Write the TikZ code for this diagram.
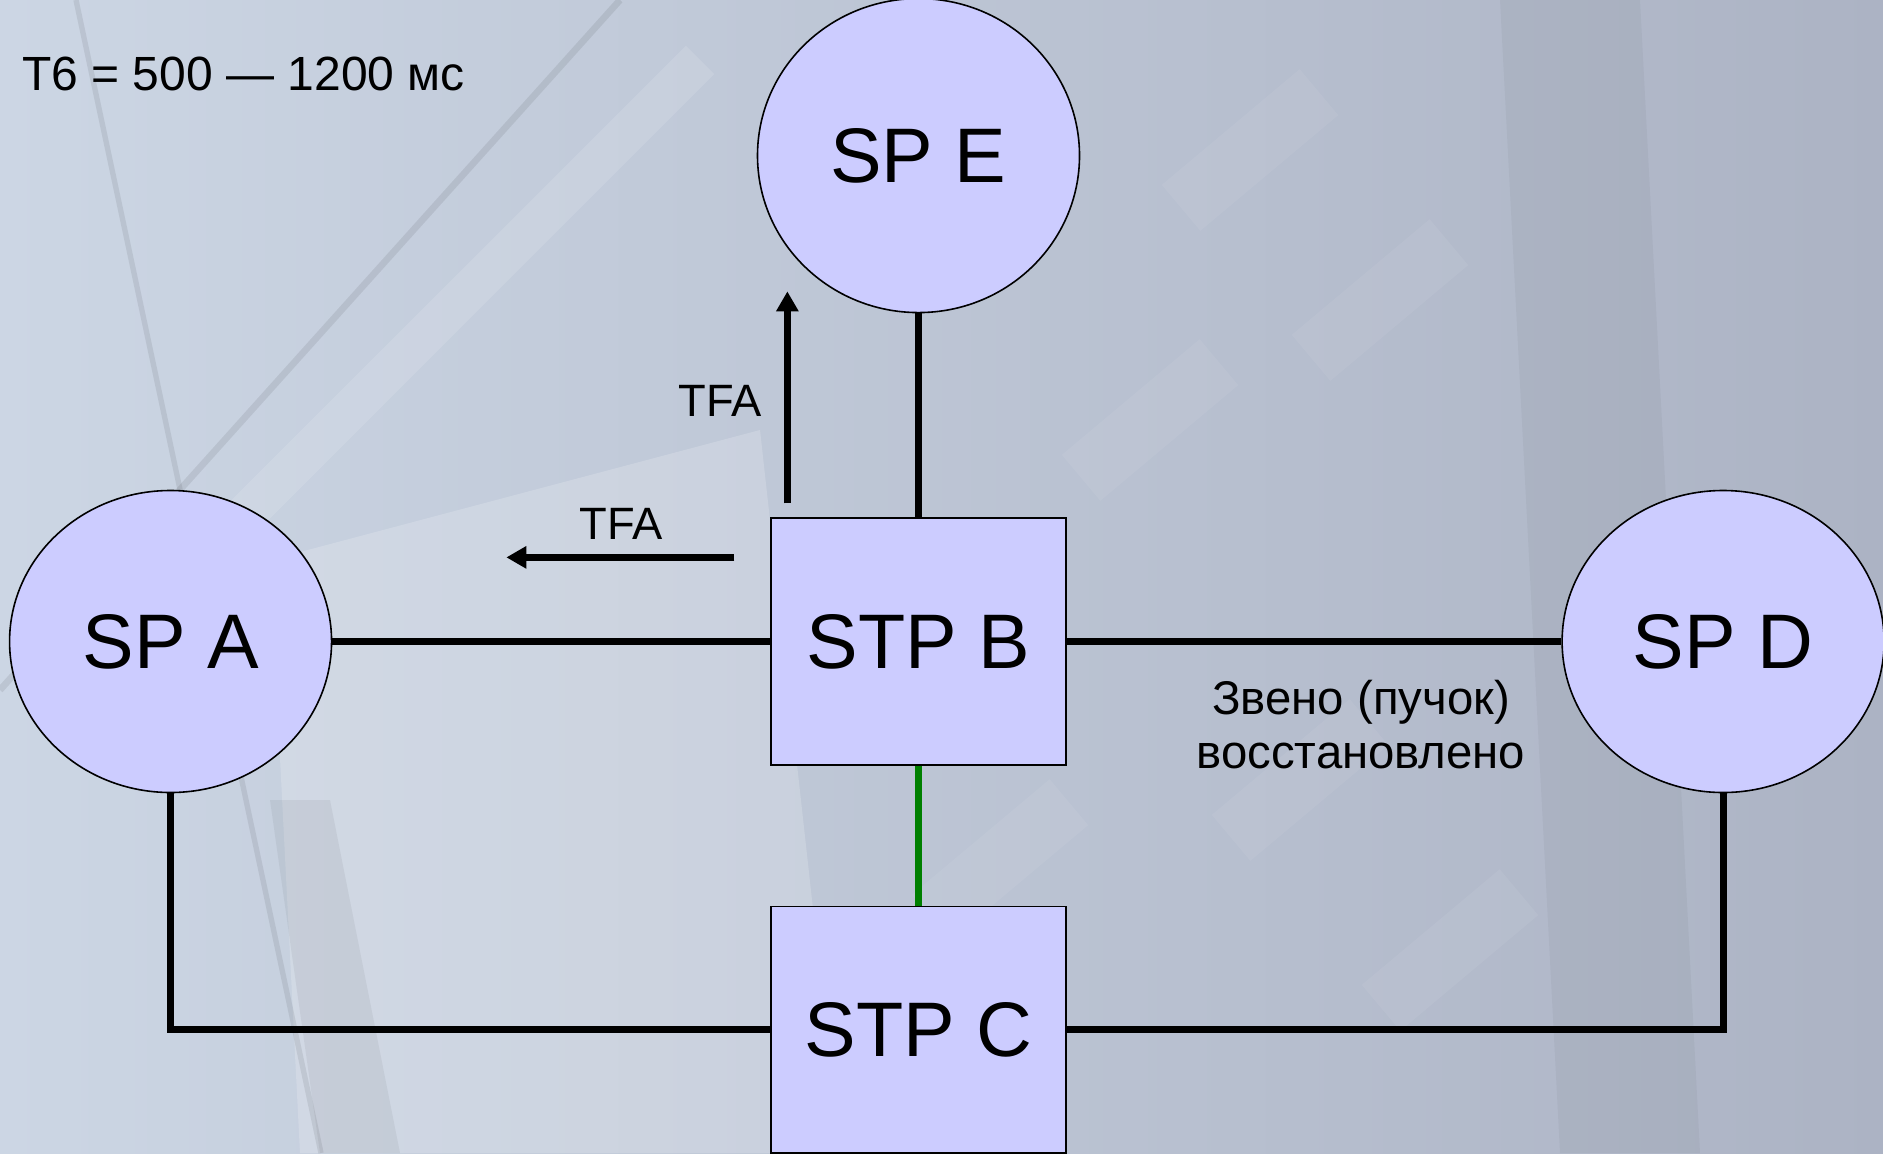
\documentclass[tikz,border=0pt]{standalone}
\usepackage{fontspec}
\setmainfont{Liberation Sans}
\usetikzlibrary{arrows.meta,positioning,shapes.geometric}

\definecolor{nodefill}{RGB}{204,204,255}
\definecolor{linkgreen}{RGB}{0,128,0}
\definecolor{bglight}{RGB}{204,214,228}
\definecolor{bgdark}{RGB}{172,179,196}

\tikzset{
  sp/.style={
    draw, ellipse, fill=nodefill, line width=1.2pt,
    inner sep=0pt, minimum width=241.5pt, minimum height=226.5pt,
    font=\fontsize{58}{58}\selectfont
  },
  stp/.style={
    draw, rectangle, fill=nodefill, line width=1.2pt,
    inner sep=0pt, minimum width=221pt, minimum height=185pt,
    font=\fontsize{58}{58}\selectfont
  },
  link/.style={line width=5.3pt},
  greenlink/.style={line width=5.5pt, draw=linkgreen},
  tfa/.style={line width=5.5pt, -{Triangle[length=15pt,width=16pt]}},
  note/.style={inner sep=0pt, align=center, font=\fontsize{34}{40.5}\selectfont}
}

\begin{document}
\begin{tikzpicture}[x=0.75pt, y=-0.75pt]
\useasboundingbox (0,0) rectangle (1883,1153);

% ---------- background ----------
\begin{scope}
  \clip (0,0) rectangle (1883,1153);
  \shade[left color=bglight, right color=bgdark] (0,0) rectangle (1883,1153);
  \fill[white, opacity=0.18] (300,1153) -- (270,560) -- (760,430) -- (840,1153) -- cycle;
  \fill[black, opacity=0.05] (270,800) -- (330,800) -- (400,1153) -- (320,1153) -- cycle;
  \fill[black, opacity=0.035] (1500,0) -- (1640,0) -- (1700,1153) -- (1560,1153) -- cycle;
  \draw[black, opacity=0.08, line width=4] (76,0) -- (321,1153);
  \draw[black, opacity=0.08, line width=5] (0,690) -- (620,0);
  \draw[white, opacity=0.12, line width=30] (60,700) -- (700,60);
  \foreach \x/\y in {1250/150, 1380/300, 1150/420, 1300/780, 1450/950, 1000/860}
    \fill[white, opacity=0.06, rotate around={40:(\x,\y)}] (\x-90,\y-30) rectangle (\x+90,\y+30);
\end{scope}

% ---------- nodes ----------
\node[stp] (stpB) at (918.5,641.5) {STP B};
\node[sp, above=153pt of stpB, minimum height=235.5pt] (spE) {SP E};
\node[sp, left=328.5pt of stpB] (spA) {SP A};
\node[sp, right=371pt of stpB] (spD) {SP D};
\node[stp, below=105pt of stpB] (stpC) {STP C};

% ---------- links ----------
\draw[link] (spE) -- (stpB);
\draw[link] (spA) -- (stpB);
\draw[link] (stpB) -- (spD);
\draw[greenlink] (stpB) -- (stpC);
\draw[link] (spA.south) |- (stpC.west);
\draw[link] (spD.south) |- (stpC.east);

% ---------- TFA messages ----------
\coordinate (tfaUpFrom) at ([xshift=12.75pt,yshift=10.5pt]stpB.north west);
\coordinate (tfaUpTo)   at ([yshift=159pt]tfaUpFrom);
\draw[tfa] (tfaUpFrom) -- (tfaUpTo);

\coordinate (tfaLeftFrom) at ([xshift=-27pt,yshift=-30pt]stpB.north west);
\coordinate (tfaLeftTo)   at ([xshift=-171pt]tfaLeftFrom);
\draw[tfa] (tfaLeftFrom) -- (tfaLeftTo);

\node[note] (tfaUpLbl)   at (720,401) {TFA};
\node[note] (tfaLeftLbl) at (621,524) {TFA};

% ---------- notes ----------
\node[note, anchor=west, font=\fontsize{36}{40}\selectfont] (timer) at (22,74)
  {T6 = 500 — 1200 мс};
\node[note, font=\fontsize{35.5}{40.5}\selectfont] (restored) at (1361,725)
  {Звено (пучок)\\восстановлено};

\end{tikzpicture}
\end{document}
